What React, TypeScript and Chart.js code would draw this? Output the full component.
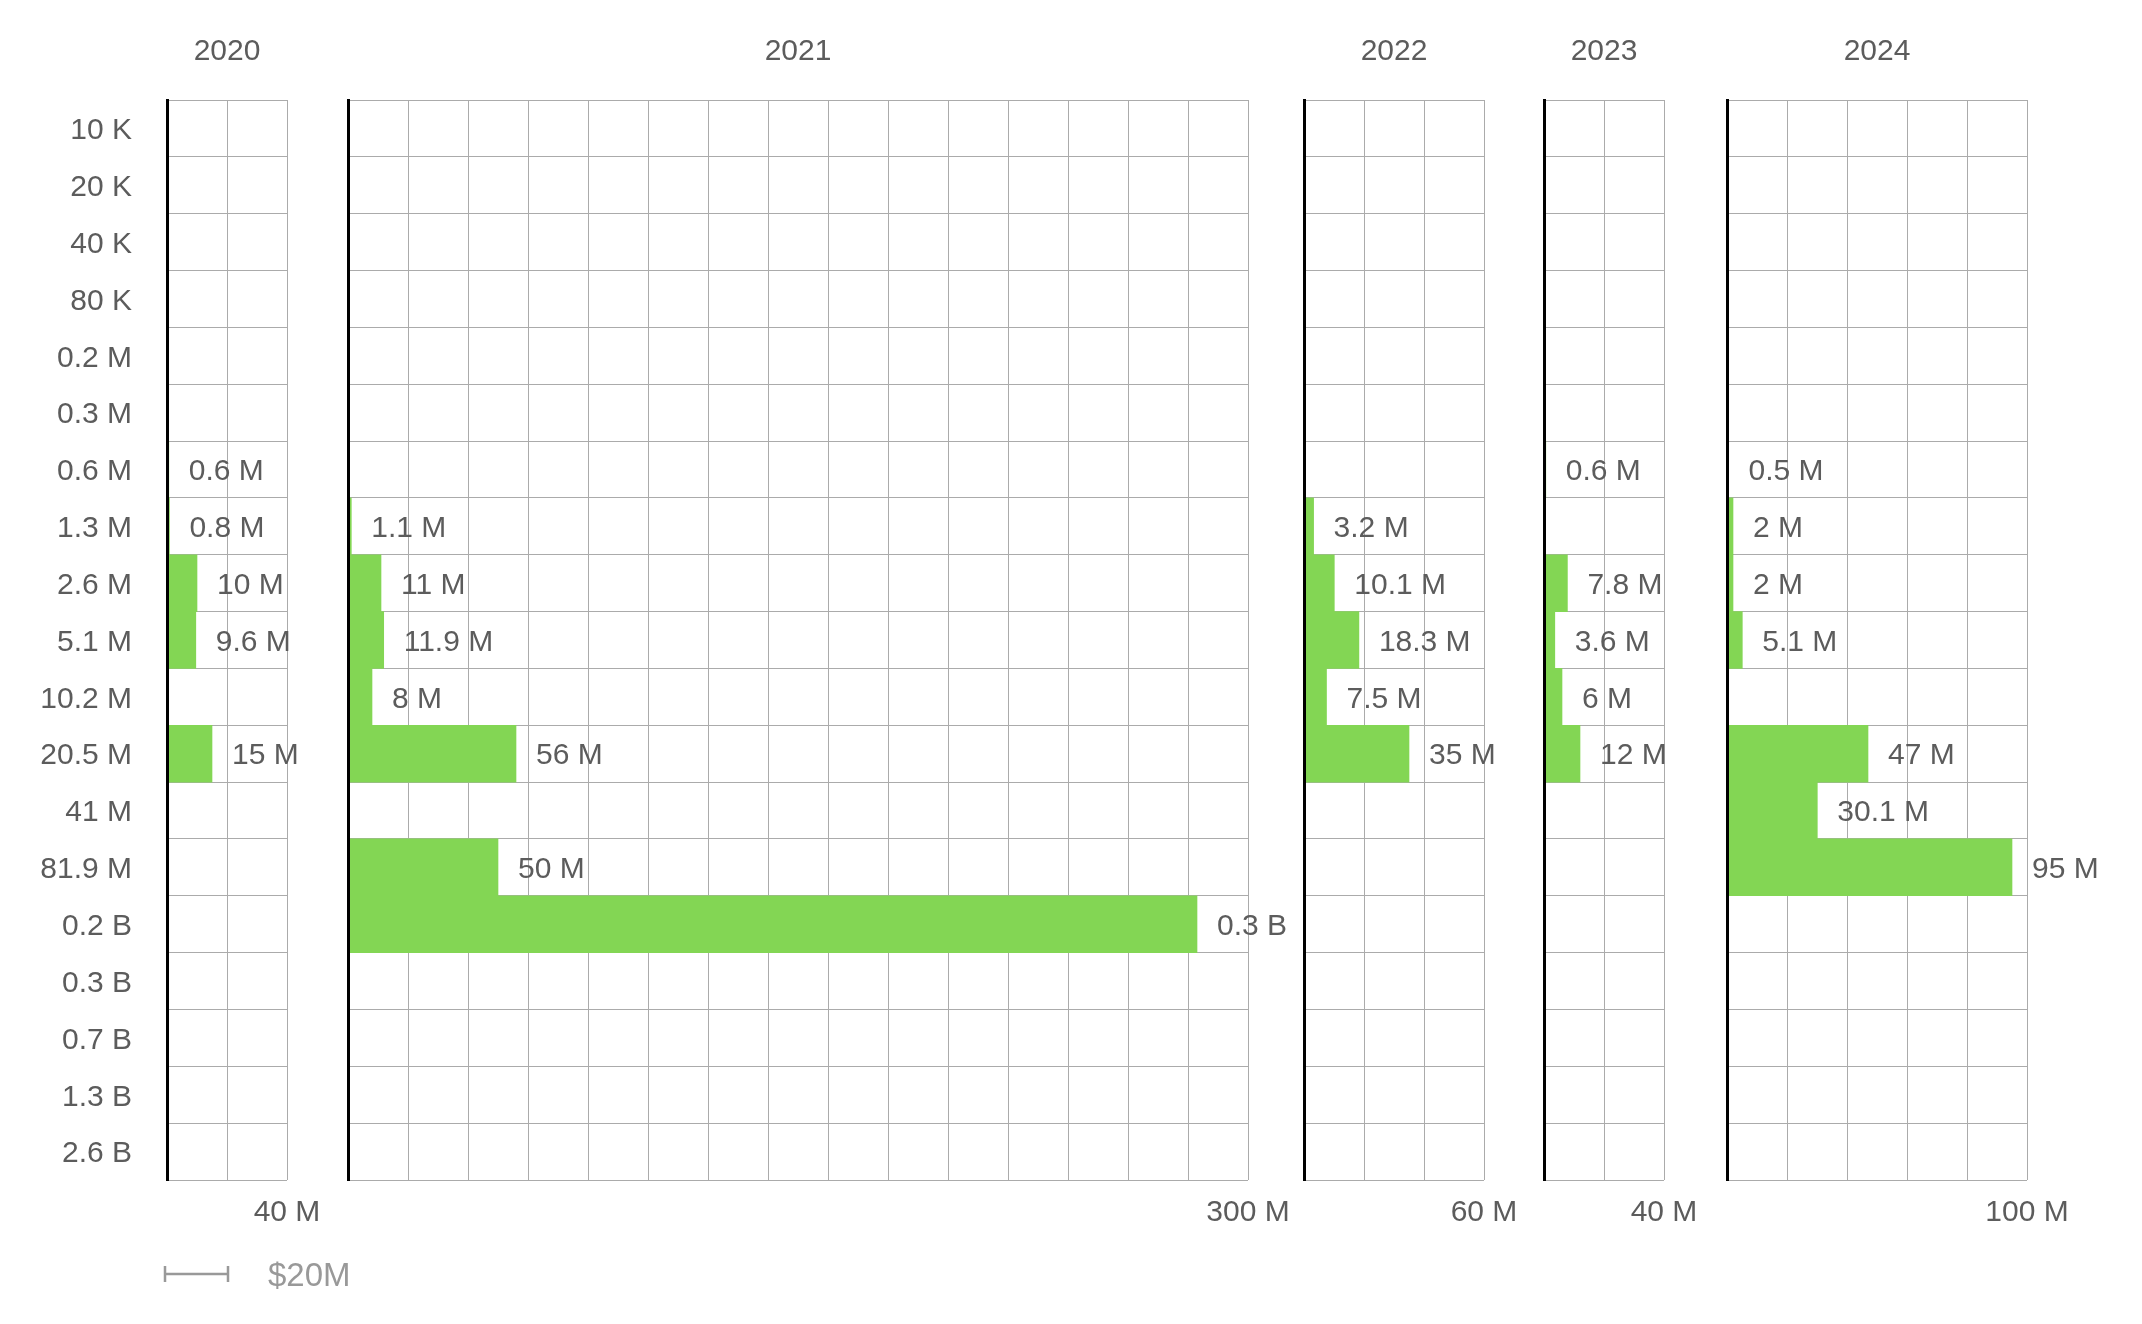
import React, { useEffect, useRef } from "react";
import { Chart, registerables } from "chart.js";

Chart.register(...registerables);

// ---------------- data ----------------
const sizeBands = [
  "10 K", "20 K", "40 K", "80 K", "0.2 M", "0.3 M", "0.6 M", "1.3 M", "2.6 M",
  "5.1 M", "10.2 M", "20.5 M", "41 M", "81.9 M", "0.2 B", "0.3 B", "0.7 B", "1.3 B", "2.6 B",
];

const years = ["2020", "2021", "2022", "2023", "2024"];

// axis maximum per year, in $M
const axisMaxM = [40, 300, 60, 40, 100];
const gridStepM = 20;
const scaleBarM = 20;
const scaleBarLabel = "$20M";

// amounts per size band, in $M (null = no deals)
const values2020 = [null, null, null, null, null, null, 0.6, 0.8, 10, 9.6, null, 15, null, null, null, null, null, null, null];
const values2021 = [null, null, null, null, null, null, null, 1.1, 11, 11.9, 8, 56, null, 50, 283, null, null, null, null];
const values2022 = [null, null, null, null, null, null, null, 3.2, 10.1, 18.3, 7.5, 35, null, null, null, null, null, null, null];
const values2023 = [null, null, null, null, null, null, 0.6, null, 7.8, 3.6, 6, 12, null, null, null, null, null, null, null];
const values2024 = [null, null, null, null, null, null, 0.5, 2, 2, 5.1, null, 47, 30.1, 95, null, null, null, null, null];

const yearValues = [values2020, values2021, values2022, values2023, values2024];

// ---------------- layout / style ----------------
const W = 2142;
const H = 1324;
const PX_PER_M = 3;
const panelLeft = [167, 348, 1304, 1544, 1727];
const AREA_TOP = 100;
const AREA_BOTTOM = 1180;
const TITLE_TOP = 33.5;

const FAMILY = "'Liberation Sans', Arial, Helvetica, sans-serif";
const FS = 30;
const TEXT = "#5c5c5c";
const GRID = "#ababab";
const BAR = "#83d654";

const fmtValue = (v: number) => (v >= 250 ? `${(v / 1000).toFixed(1)} B` : `${v} M`);

const valueLabels = {
  id: "valueLabels",
  afterDatasetsDraw(chart: any) {
    const ctx = chart.ctx;
    const ds = chart.data.datasets[0];
    const meta = chart.getDatasetMeta(0);
    ctx.save();
    ctx.font = `${FS}px ${FAMILY}`;
    ctx.fillStyle = TEXT;
    ctx.textAlign = "left";
    ctx.textBaseline = "middle";
    meta.data.forEach((el: any, i: number) => {
      const v = ds.data[i];
      if (v == null) return;
      ctx.fillText(fmtValue(v), el.x + 20, el.y + 2.5);
    });
    ctx.restore();
  },
};

const scaleBar = {
  id: "scaleBar",
  afterDraw(chart: any) {
    const x = chart.scales.x;
    const ctx = chart.ctx;
    const x0 = x.getPixelForValue(0) - 2;
    const x1 = x.getPixelForValue(scaleBarM) + 1;
    const y = 1274;
    ctx.save();
    ctx.strokeStyle = "#999999";
    ctx.lineWidth = 2.5;
    ctx.beginPath();
    ctx.moveTo(x0, y);
    ctx.lineTo(x1, y);
    ctx.moveTo(x0, y - 8);
    ctx.lineTo(x0, y + 8);
    ctx.moveTo(x1, y - 8);
    ctx.lineTo(x1, y + 8);
    ctx.stroke();
    ctx.font = `33px ${FAMILY}`;
    ctx.fillStyle = "#999999";
    ctx.textAlign = "left";
    ctx.textBaseline = "middle";
    ctx.fillText(scaleBarLabel, x1 + 40, y + 3);
    ctx.restore();
  },
};

function makeConfig(idx: number): any {
  const first = idx === 0;
  const max = axisMaxM[idx];
  const left = panelLeft[idx];
  const right = left + max * PX_PER_M;
  return {
    type: "bar",
    data: {
      labels: sizeBands,
      datasets: [
        {
          data: yearValues[idx],
          backgroundColor: BAR,
          borderWidth: 0,
          barPercentage: 1,
          categoryPercentage: 1,
        },
      ],
    },
    options: {
      indexAxis: "y",
      animation: false,
      responsive: false,
      maintainAspectRatio: false,
      layout: {
        padding: { left: first ? 0 : left, right: W - right, top: TITLE_TOP, bottom: 0 },
      },
      plugins: {
        legend: { display: false },
        tooltip: { enabled: false },
        title: {
          display: true,
          text: years[idx],
          fullSize: false,
          color: TEXT,
          font: { family: FAMILY, size: FS, weight: "normal", lineHeight: 1.2 },
          padding: { top: 0, bottom: AREA_TOP - TITLE_TOP - FS * 1.2 },
        },
      },
      scales: {
        y: {
          type: "category",
          position: "left",
          grid: { color: GRID, lineWidth: 1, drawTicks: false, offset: true },
          border: { display: true, color: "#000000", width: 3, z: 1 },
          ticks: {
            display: first,
            color: TEXT,
            padding: 35,
            labelOffset: 2.5,
            font: { family: FAMILY, size: FS },
            autoSkip: false,
          },
          afterFit: (s: any) => {
            s.width = first ? left : 0;
          },
        },
        x: {
          type: "linear",
          position: "bottom",
          min: 0,
          max: max,
          grid: { color: GRID, lineWidth: 1, drawTicks: false },
          border: { display: false },
          ticks: {
            stepSize: gridStepM,
            autoSkip: false,
            maxRotation: 0,
            includeBounds: true,
            color: TEXT,
            padding: 15,
            font: { family: FAMILY, size: FS },
            callback: (v: any) => (v === max ? `${v} M` : ""),
          },
          afterFit: (s: any) => {
            s.height = H - AREA_BOTTOM;
          },
        },
      },
    },
    plugins: first ? [valueLabels, scaleBar] : [valueLabels],
  };
}

function Panel({ idx }: { idx: number }) {
  const ref = useRef<HTMLCanvasElement | null>(null);
  useEffect(() => {
    if (!ref.current) return;
    const chart = new Chart(ref.current, makeConfig(idx));
    return () => chart.destroy();
  }, [idx]);
  return (
    <canvas
      ref={ref}
      width={W}
      height={H}
      style={{ position: "absolute", left: 0, top: 0, width: W, height: H, display: "block" }}
    />
  );
}

export default function App() {
  return (
    <div
      style={{
        position: "fixed",
        left: 0,
        top: 0,
        width: W,
        height: H,
        background: "#ffffff",
        overflow: "hidden",
      }}
    >
      {years.map((y, i) => (
        <Panel key={y} idx={i} />
      ))}
    </div>
  );
}
